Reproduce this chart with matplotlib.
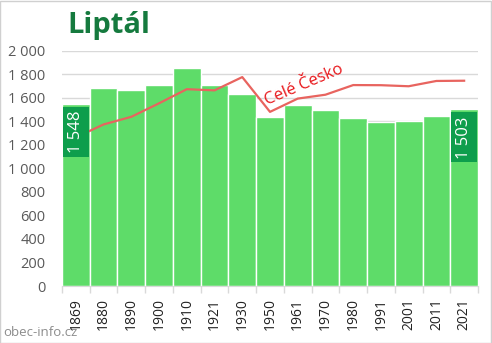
import matplotlib
matplotlib.use("Agg")
import matplotlib.pyplot as plt
from matplotlib.patches import Rectangle
import numpy as np

# Census years and population of the village
years = ["1869", "1880", "1890", "1900", "1910", "1921", "1930", "1950",
         "1961", "1970", "1980", "1991", "2001", "2011", "2021"]
population = [1548, 1688, 1671, 1713, 1858, 1711, 1637, 1441,
              1543, 1500, 1427, 1393, 1407, 1449, 1503]
# Whole-country population, rescaled to the village's level
czechia_scaled = [1265, 1375, 1440, 1555, 1675, 1665, 1778, 1482,
                  1595, 1628, 1710, 1709, 1700, 1745, 1747]
y_ticks = [0, 200, 400, 600, 800, 1000, 1200, 1400, 1600, 1800, 2000]

BAR = "#5EDC69"
BOX = "#0E9E4C"
LINE = "#E8645F"
GRID = "#D9D9D9"
TXT = "#595959"

plt.rcParams["font.family"] = ["Open Sans", "DejaVu Sans"]

fig = plt.figure(figsize=(4.92, 3.43), dpi=100)
ax = fig.add_axes([62 / 492, 57 / 343, 416 / 492, 235 / 343])

x = np.arange(len(years))
ax.bar(x, population, width=1.0, color=BAR, edgecolor="white",
       linewidth=1.0, zorder=2)
ax.plot(x, czechia_scaled, color=LINE, linewidth=1.6, zorder=3)

# value boxes on the first and last bar
px_per_unit = 235 / 2000
gap = 3 / px_per_unit
box_h = 50 / px_per_unit
for i in (0, len(years) - 1):
    v = population[i]
    top = v - gap
    ax.add_patch(Rectangle((i - 0.5 + 0.03, top - box_h), 0.94, box_h,
                           facecolor=BOX, edgecolor="none", zorder=4))
    ax.text(i, top - box_h / 2, f"{v:,}".replace(",", " "), rotation=90,
            ha="center", va="center", color="white", fontsize=12,
            zorder=5)

ax.set_xlim(-0.5, len(years) - 0.5)
ax.set_ylim(0, 2000)
ax.set_yticks(y_ticks)
ax.set_yticklabels([f"{t:,}".replace(",", " ") for t in y_ticks])
ax.set_xticks(x)
ax.set_xticklabels(years, rotation=90)
ax.set_xticks(np.arange(-0.5, len(years)), minor=True)
ax.tick_params(axis="x", which="major", length=0, pad=9, labelsize=10,
               labelcolor="#222222")
ax.tick_params(axis="x", which="minor", length=5, color=GRID, width=1)
ax.tick_params(axis="y", length=0, pad=12, labelsize=10.5, labelcolor=TXT)
ax.grid(axis="y", color=GRID, linewidth=1, zorder=0)
ax.set_axisbelow(True)
for s in ("top", "right", "left"):
    ax.spines[s].set_visible(False)
ax.spines["bottom"].set_color(GRID)

ax.text(8.23, 1712, "Celé Česko", rotation=23, color="#E8161A",
        fontsize=12, ha="center", va="center", zorder=5)

fig.text(67 / 492, 1 - 25 / 343, "Liptál", fontsize=21, fontweight="bold",
         color="#157A3E", ha="left", va="center")
fig.text(3 / 492, 1 - 333 / 343, "obec-info.cz", fontsize=9.5,
         color="#8C8C8C", ha="left", va="center")

fig.add_artist(Rectangle((0.001, 0.001), 0.997, 0.996,
                         transform=fig.transFigure, fill=False,
                         edgecolor="#D0D0D0", linewidth=1))

fig.savefig("out.png", dpi=100)
